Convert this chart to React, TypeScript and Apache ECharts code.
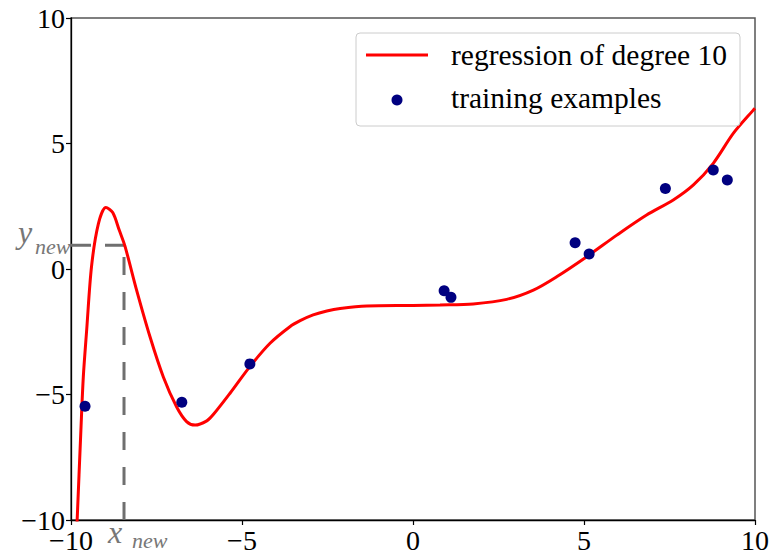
import React, { useEffect, useRef } from "react";
import * as echarts from "echarts";

// ---- data ----
const AXIS_MIN = -10;
const AXIS_MAX = 10;
const TICK_STEP = 5;

const curveX = [
  -9.9, -9.82, -9.71, -9.64, -9.54, -9.4, -9.2, -8.98, -8.78, -8.59, -8.42,
  -8.08, -7.69, -7.3, -6.91, -6.62, -6.37, -6.03, -5.84, -5.35, -4.77, -4.18,
  -3.6, -3.3, -2.92, -2.52, -2.13, -1.35, 0, 0.79, 1.76, 2.74, 3.52, 4.2, 5.08,
  5.96, 6.83, 7.61, 8.2, 8.78, 9.37, 9.95, 10,
];
const curveY = [
  -12.6, -10.0, -6.4, -4.3, -2.4, 0.1, 1.8, 2.45, 2.25, 1.55, 0.9, -0.85, -2.7,
  -4.3, -5.5, -6.08, -6.22, -6.05, -5.8, -4.95, -3.89, -2.96, -2.3, -2.06,
  -1.83, -1.67, -1.57, -1.47, -1.45, -1.43, -1.39, -1.21, -0.84, -0.31, 0.49,
  1.35, 2.15, 2.75, 3.35, 4.21, 5.41, 6.33, 6.4,
];

const trainX = [-9.59, -6.76, -4.77, 0.91, 1.11, 4.74, 5.15, 7.38, 8.78, 9.19];
const trainY = [-5.47, -5.31, -3.78, -0.87, -1.13, 1.05, 0.6, 3.21, 3.94, 3.55];

const xNew = -8.45;
const yNew = 0.95;

const curveName = "regression of degree 10";
const trainName = "training examples";
const xNewMain = "x";
const yNewMain = "y";
const newSub = "new";

const SERIF = '"Liberation Serif", "Times New Roman", serif';

const fmt = (v: number) => (v < 0 ? "\u2212" + Math.abs(v) : String(v));

export default function App() {
  const ref = useRef<HTMLDivElement>(null);

  useEffect(() => {
    if (!ref.current) return;
    const chart = echarts.init(ref.current, null, { renderer: "svg" });

    const curveData = curveX.map((x, i) => [x, curveY[i]]);
    const trainData = trainX.map((x, i) => [x, trainY[i]]);

    const axisCommon = {
      type: "value" as const,
      min: AXIS_MIN,
      max: AXIS_MAX,
      interval: TICK_STEP,
      splitLine: { show: false },
      axisLine: { show: true, onZero: false, lineStyle: { color: "#000", width: 1.3 } },
      axisTick: { show: true, inside: false, length: 5, lineStyle: { color: "#000", width: 1.2 } },
      axisLabel: {
        formatter: fmt,
        fontFamily: SERIF,
        fontSize: 28,
        lineHeight: 20,
        color: "#000",
      },
    };

    chart.setOption({
      animation: false,
      backgroundColor: "#fff",
      grid: {
        left: 71,
        top: 18,
        right: 18,
        bottom: 36,
        show: true,
        borderColor: "#555",
        borderWidth: 1.5,
        backgroundColor: "transparent",
      },
      xAxis: {
        ...axisCommon,
        axisLabel: { ...axisCommon.axisLabel, margin: 10 },
      },
      yAxis: {
        ...axisCommon,
        axisLabel: { ...axisCommon.axisLabel, margin: 6 },
      },
      series: [
        {
          name: "guide-v",
          type: "line",
          data: [
            [xNew, AXIS_MIN],
            [xNew, yNew],
          ],
          symbol: "none",
          silent: true,
          lineStyle: { color: "#6f6f6f", width: 3, type: [18, 17] },
          z: 1,
        },
        {
          name: "guide-h",
          type: "line",
          data: [
            [AXIS_MIN, yNew],
            [xNew, yNew],
          ],
          symbol: "none",
          silent: true,
          lineStyle: { color: "#6f6f6f", width: 3, type: [20, 14] },
          z: 1,
        },
        {
          name: curveName,
          type: "line",
          data: curveData,
          symbol: "none",
          smooth: 0.3,
          clip: true,
          lineStyle: { color: "#ff0000", width: 3 },
          z: 2,
        },
        {
          name: trainName,
          type: "scatter",
          data: trainData,
          symbol: "circle",
          symbolSize: 11,
          itemStyle: { color: "#000080", opacity: 1 },
          z: 3,
        },
      ],
    });

    const [pxX, pxBottom] = chart.convertToPixel({ gridIndex: 0 }, [xNew, AXIS_MIN]) as number[];
    const [pxLeft, pxY] = chart.convertToPixel({ gridIndex: 0 }, [AXIS_MIN, yNew]) as number[];

    const mainStyle = (text: string) => ({
      text,
      fontSize: 32,
      fontStyle: "italic",
      fontFamily: SERIF,
      fill: "#777",
      lineHeight: 26,
      verticalAlign: "top",
    });
    const subStyle = () => ({
      text: newSub,
      fontSize: 22,
      fontStyle: "italic",
      fontFamily: SERIF,
      fill: "#777",
      lineHeight: 16,
      verticalAlign: "top",
    });

    const xTop = pxBottom - 1;
    const yTop = pxY - 26;

    chart.setOption({
      graphic: [
        {
          type: "rect",
          shape: { x: 356, y: 33, width: 384, height: 93, r: 4 },
          style: { fill: "rgba(255,255,255,0.8)", stroke: "#cccccc", lineWidth: 1 },
          z: 100,
        },
        {
          type: "line",
          shape: { x1: 366, y1: 55, x2: 428, y2: 55 },
          style: { stroke: "#ff0000", lineWidth: 3 },
          z: 101,
        },
        {
          type: "circle",
          shape: { cx: 397, cy: 100, r: 5.5 },
          style: { fill: "#000080" },
          z: 101,
        },
        {
          type: "text",
          x: 451,
          y: 55,
          style: {
            text: curveName,
            fontSize: 29.5,
            fontFamily: SERIF,
            fill: "#000",
            verticalAlign: "middle",
          },
          z: 101,
        },
        {
          type: "text",
          x: 451,
          y: 98,
          style: {
            text: trainName,
            fontSize: 29.5,
            fontFamily: SERIF,
            fill: "#000",
            verticalAlign: "middle",
          },
          z: 101,
        },
        { type: "text", x: pxX - 16, y: xTop, style: mainStyle(xNewMain), z: 101 },
        { type: "text", x: pxX + 8, y: xTop + 13.5, style: subStyle(), z: 101 },
        { type: "text", x: pxLeft - 53, y: yTop, style: mainStyle(yNewMain), z: 101 },
        { type: "text", x: pxLeft - 36, y: yTop + 19, style: subStyle(), z: 101 },
      ],
    });

    return () => chart.dispose();
  }, []);

  return (
    <div
      ref={ref}
      style={{ position: "absolute", left: 0, top: 0, width: 773, height: 556 }}
    />
  );
}
